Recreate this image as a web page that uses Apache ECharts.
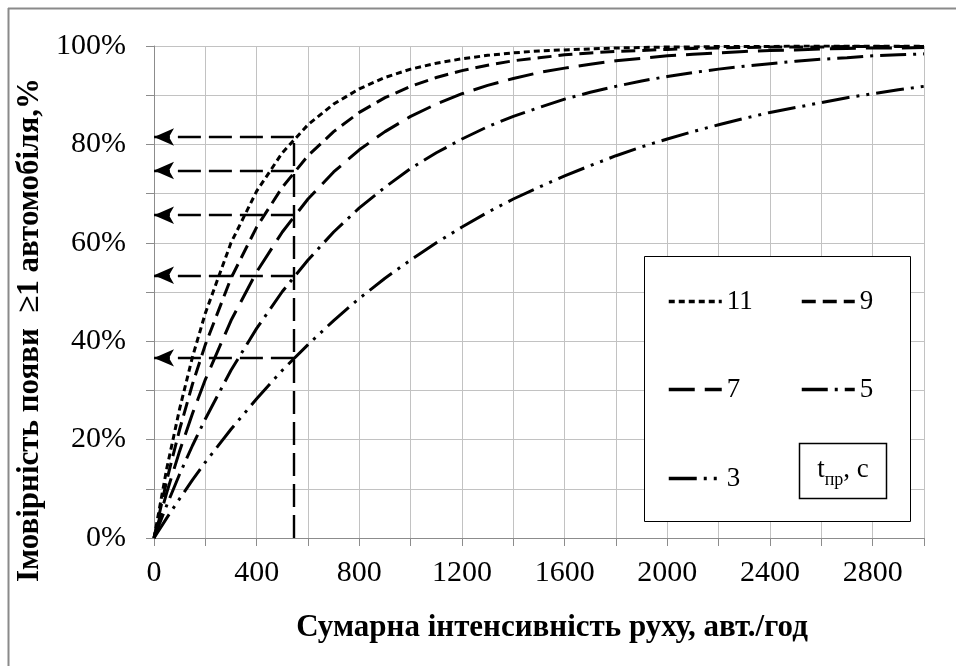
<!DOCTYPE html>
<html>
<head>
<meta charset="utf-8">
<script src="https://cdn.jsdelivr.net/npm/echarts@6/dist/echarts.min.js"></script>
<style>
  html, body { margin: 0; padding: 0; background: #fff; }
  #chart { width: 956px; height: 666px; }
</style>
</head>
<body>
<div id="chart"></div>
<script>
// інтенсивність руху, авт./год
var xValues = [0, 50, 100, 150, 200, 300, 400, 500, 600, 700, 800, 900, 1000, 1100, 1200, 1300, 1400, 1500,
  1600, 1700, 1800, 1900, 2000, 2100, 2200, 2300, 2400, 2500, 2600, 2700, 2800, 2900, 3000]

// імовірність, % (для кожного tпр)
var p11 = [0, 14.2, 26.3, 36.8, 45.7, 60.0, 70.5, 78.3, 84.0, 88.2, 91.3, 93.6, 95.3, 96.5, 97.4, 98.1, 98.6, 99.0,
  99.2, 99.4, 99.6, 99.7, 99.8, 99.8, 99.9, 99.9, 99.9, 100, 100, 100, 100, 100, 100]
var p9 = [0, 11.8, 22.1, 31.3, 39.3, 52.8, 63.2, 71.3, 77.7, 82.6, 86.5, 89.5, 91.8, 93.6, 95.0, 96.1, 97.0, 97.6,
  98.2, 98.6, 98.9, 99.1, 99.3, 99.5, 99.6, 99.7, 99.8, 99.8, 99.8, 99.9, 99.9, 99.9, 99.9]
var p7 = [0, 9.3, 17.7, 25.3, 32.2, 44.2, 54.1, 62.2, 68.9, 74.4, 78.9, 82.6, 85.7, 88.2, 90.3, 92.0, 93.4, 94.6,
  95.5, 96.3, 97.0, 97.5, 98.0, 98.3, 98.6, 98.9, 99.1, 99.2, 99.4, 99.5, 99.6, 99.6, 99.7]
var p5 = [0, 6.7, 13.0, 18.8, 24.2, 34.1, 42.6, 50.1, 56.5, 62.2, 67.1, 71.3, 75.1, 78.3, 81.1, 83.6, 85.7, 87.5,
  89.2, 90.6, 91.8, 92.9, 93.8, 94.6, 95.3, 95.9, 96.4, 96.9, 97.3, 97.6, 98.0, 98.2, 98.4]
var p3 = [0, 4.1, 8.0, 11.8, 15.4, 22.1, 28.3, 34.1, 39.3, 44.2, 48.7, 52.8, 56.5, 60.0, 63.2, 66.2, 68.9, 71.3,
  73.6, 75.7, 77.7, 79.5, 81.1, 82.6, 84.0, 85.3, 86.5, 87.5, 88.5, 89.5, 90.3, 91.1, 91.8]

var names = ['11', '9', '7', '5', '3']
var values = [p11, p9, p7, p5, p3]
var dashes = [[6, 4], [14, 7], [26, 10], [26, 7, 3, 7], [28, 7, 3, 7, 3, 7]]

// стрілки-відліки на q = 545 авт./год
var markX = 545
var markLevels = [81.5, 74.7, 65.6, 53.4, 36.6]

var font = 'Liberation Serif'

function pairs(ys) {
  return xValues.map(function (x, i) { return [x, ys[i]] })
}

var series = names.map(function (n, i) {
  return {
    name: n,
    type: 'line',
    data: pairs(values[i]),
    symbol: 'none',
    lineStyle: { color: '#000', width: 3, type: dashes[i] },
    itemStyle: { color: '#000' },
    z: 3
  }
})

var markData = markLevels.map(function (y) {
  return [{ coord: [markX, y] }, { coord: [0, y] }]
})
series.push({
  name: 'marks',
  type: 'line',
  data: [],
  silent: true,
  markLine: {
    silent: true,
    animation: false,
    symbol: ['none', 'arrow'],
    symbolSize: [13, 20],
    label: { show: false },
    lineStyle: { color: '#000', width: 2.4, type: [23, 8] },
    data: markData.concat([[
      { coord: [markX, 0], symbol: 'none' },
      { coord: [markX, markLevels[0]], symbol: 'none' }
    ]])
  }
})

// легенда: дві колонки, три рядки
var legPos = [[667, 288], [800, 288], [667, 376], [800, 376], [667, 465]]
var legends = names.map(function (n, i) {
  return {
    data: [n],
    left: legPos[i][0],
    top: legPos[i][1],
    padding: 0,
    itemWidth: 53,
    itemHeight: 14,
    selectedMode: false,
    itemStyle: { opacity: 0 },
    lineStyle: { width: 3.5 },
    textStyle: { fontFamily: font, fontSize: 27, color: '#000' },
    z: 5
  }
})

var myChart = echarts.init(document.getElementById('chart'))

myChart.setOption({
  animation: false,
  backgroundColor: '#fff',
  grid: { left: 154, right: 32, top: 46, bottom: 128 },
  legend: legends,
  xAxis: {
    type: 'value',
    min: 0,
    max: 3000,
    interval: 200,
    name: 'Сумарна інтенсивність руху, авт./год',
    nameLocation: 'middle',
    nameGap: 74,
    nameTextStyle: { fontFamily: font, fontSize: 31, fontWeight: 'bold', color: '#000', padding: [0, 0, 0, 26] },
    axisLine: { lineStyle: { color: '#8c8c8c', width: 1 } },
    axisTick: { show: true, length: 8, lineStyle: { color: '#8c8c8c' } },
    axisLabel: {
      fontFamily: font, fontSize: 30, color: '#000', margin: 20,
      formatter: function (v) { return v % 400 === 0 ? String(v) : '' }
    },
    splitLine: { show: true, lineStyle: { color: '#c2c2c2', width: 1 } }
  },
  yAxis: {
    type: 'value',
    min: 0,
    max: 100,
    interval: 10,
    name: 'Імовірність появи  ≥1 автомобіля,%',
    nameLocation: 'middle',
    nameGap: 101,
    nameTextStyle: { fontFamily: font, fontSize: 31, fontWeight: 'bold', color: '#000', padding: [0, 76, 0, 0] },
    axisLine: { show: true, lineStyle: { color: '#8c8c8c', width: 1 } },
    axisTick: { show: true, length: 8, lineStyle: { color: '#8c8c8c' } },
    axisLabel: {
      fontFamily: font, fontSize: 30, color: '#000', margin: 28,
      formatter: function (v) { return v % 20 === 0 ? v + '%' : '' }
    },
    splitLine: { show: true, lineStyle: { color: '#c2c2c2', width: 1 } }
  },
  graphic: [
    // рамка зображення
    { type: 'line', shape: { x1: 8.5, y1: 8, x2: 8.5, y2: 666 }, style: { stroke: '#8a8a8a', lineWidth: 2 }, z: 10 },
    { type: 'line', shape: { x1: 8, y1: 8.5, x2: 956, y2: 8.5 }, style: { stroke: '#8a8a8a', lineWidth: 2 }, z: 10 },
    // рамка легенди
    { type: 'rect', shape: { x: 644.5, y: 256.5, width: 266, height: 265 }, style: { fill: '#fff', stroke: '#000', lineWidth: 1 }, z: 4 },
    { type: 'rect', shape: { x: 799.5, y: 443.5, width: 87, height: 55 }, style: { fill: '#fff', stroke: '#000', lineWidth: 1.5 }, z: 5 },
    {
      type: 'text', x: 843, y: 470, z: 6,
      style: {
        text: '{a|t}{b|пр}{a|, с}',
        align: 'center',
        verticalAlign: 'middle',
        rich: {
          a: { fontFamily: font, fontSize: 27, fill: '#000', verticalAlign: 'bottom' },
          b: { fontFamily: font, fontSize: 18, fill: '#000', verticalAlign: 'bottom', padding: [0, 0, -6, 0] }
        }
      }
    }
  ],
  series: series
})
</script>
</body>
</html>
